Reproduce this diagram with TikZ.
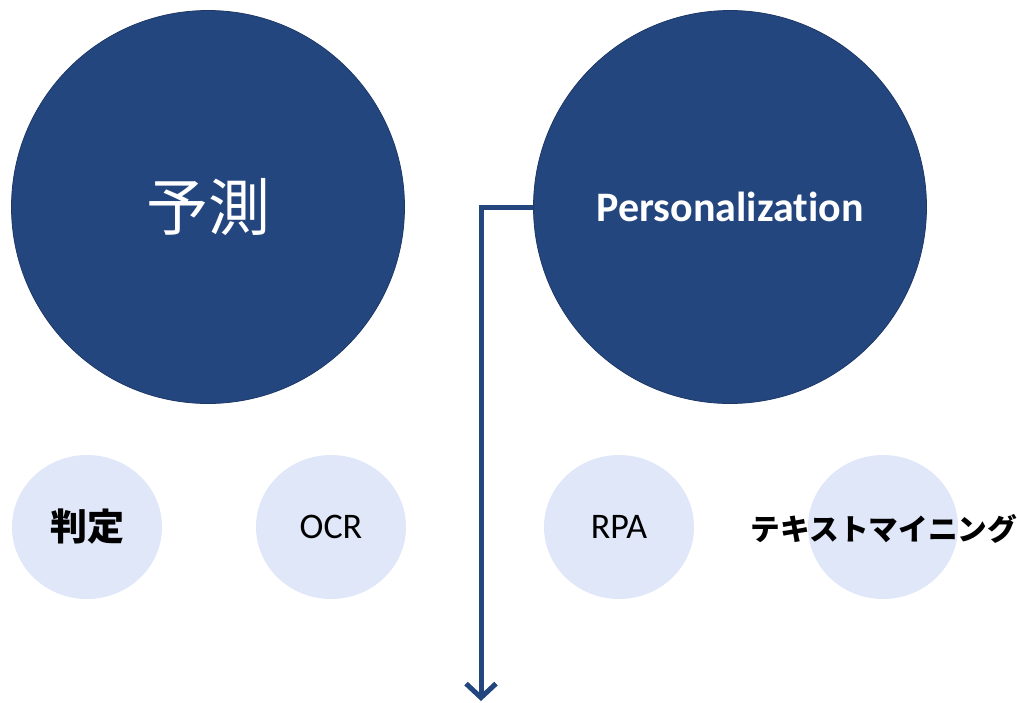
\documentclass[tikz,border=0pt]{standalone}
\usepackage{fontspec}
\setmainfont{Carlito}[Ligatures=NoCommon]
\newfontfamily\jp{Noto Sans CJK JP}
\usetikzlibrary{arrows.meta,shapes.geometric}
\definecolor{dkblue}{HTML}{24467F}
\definecolor{ltblue}{HTML}{DFE7F9}
\tikzset{
  big/.style={circle, fill=dkblue, draw=dkblue!80!black, line width=0.8pt, minimum size=393pt, inner sep=0pt, text=white},
  small/.style={ellipse, fill=ltblue, minimum width=150pt, minimum height=144pt, inner sep=0pt},
  conn/.style={draw=dkblue, line width=5pt, -{Straight Barb[length=14pt,width=30pt,line width=5pt]}},
}
\begin{document}
\begin{tikzpicture}[x=1pt,y=-1pt]
\useasboundingbox (0,0) rectangle (1017,702);
\node[big] (yosoku) at (208,207) {\jp\fontsize{62}{72}\selectfont 予測};
\node[big] (pers) at (730,207) {\bfseries\fontsize{42}{48}\selectfont Personalization};
\node[small] (hantei) at (87,527) {\jp\bfseries\fontsize{37}{42}\selectfont 判定};
\node[small] (ocr) at (331,527) {\fontsize{36}{42}\selectfont OCR};
\node[small] (rpa) at (619,527) {\fontsize{36}{42}\selectfont RPA};
\node[small] (tm) at (883,527) {};
\node (tmtext) at (884,529) {\jp\bfseries\fontsize{29.7}{34}\selectfont テキストマイニング};
\coordinate (end) at (481,701);
\draw[conn] (pers.west) -| (end);
\end{tikzpicture}
\end{document}
